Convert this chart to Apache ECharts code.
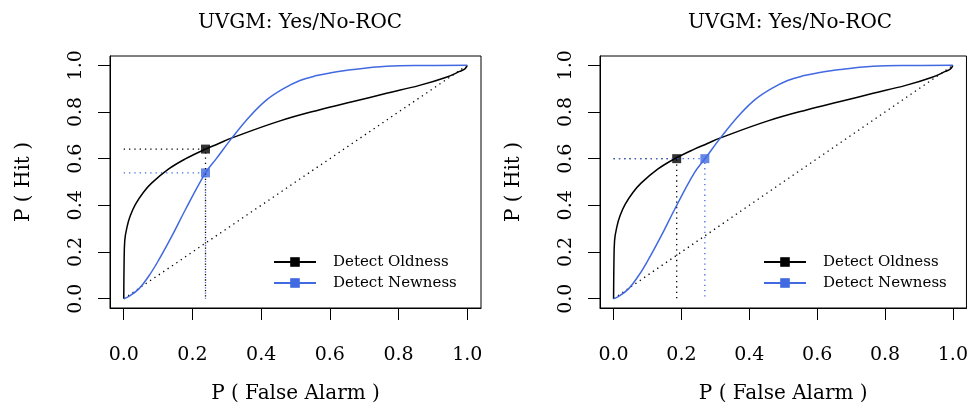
<!DOCTYPE html>
<html>
<head>
<meta charset="utf-8">
<script src="https://cdn.jsdelivr.net/npm/echarts@6/dist/echarts.min.js"></script>
<style>
  html, body { margin: 0; padding: 0; background: #fff; }
  #chart { width: 971px; height: 409px; }
</style>
</head>
<body>
<div id="chart"></div>
<script>
// ROC curves (same curves in both panels)
const oldFA  = [0, 0.001, 0.003, 0.01, 0.019, 0.034, 0.057, 0.081, 0.13, 0.178, 0.238, 0.275, 0.315, 0.455, 0.571, 0.668, 0.765, 0.861, 0.939, 0.978, 0.993, 1.0];
const oldHit = [0, 0.15, 0.25, 0.31, 0.355, 0.404, 0.455, 0.495, 0.555, 0.598, 0.641, 0.664, 0.689, 0.762, 0.81, 0.845, 0.88, 0.914, 0.949, 0.974, 0.985, 1.0];
const newFA  = [0, 0.015, 0.044, 0.073, 0.102, 0.14, 0.179, 0.238, 0.269, 0.315, 0.368, 0.416, 0.465, 0.513, 0.562, 0.60, 0.668, 0.765, 0.861, 1.0];
const newHit = [0, 0.01, 0.042, 0.097, 0.166, 0.268, 0.38, 0.539, 0.599, 0.689, 0.783, 0.852, 0.90, 0.935, 0.956, 0.967, 0.982, 0.996, 0.9995, 1.0];

// marked operating points per panel: [FA, Hit]
const leftOld  = [0.238, 0.641];
const leftNew  = [0.238, 0.539];
const rightOld = [0.186, 0.6];
const rightNew = [0.269, 0.6];

const ticks = [0, 0.2, 0.4, 0.6, 0.8, 1.0];
const titleText = 'UVGM: Yes/No-ROC';
const seriesNames = ['Detect Oldness', 'Detect Newness'];

const BLUE = '#4169e1';
const FONT = 'DejaVu Serif';

const zip = (xs, ys) => xs.map((x, i) => [x, ys[i]]);

function axis(isX, idx) {
  return {
    type: 'value',
    gridIndex: idx,
    min: -0.04,
    max: 1.04,
    name: isX ? 'P ( False Alarm )' : 'P ( Hit )',
    nameLocation: 'middle',
    nameGap: 76,
    nameTextStyle: { fontFamily: FONT, fontSize: 20, color: '#000' },
    splitLine: { show: false },
    axisLine: { show: true, onZero: false, lineStyle: { color: '#000', width: 1 } },
    axisTick: { show: true, length: 12, customValues: ticks, lineStyle: { color: '#000' } },
    axisLabel: {
      customValues: ticks,
      formatter: v => v.toFixed(1),
      margin: isX ? 38 : 24,
      rotate: isX ? 0 : 90,
      fontFamily: FONT, fontSize: 19, color: '#000'
    }
  };
}

function panelSeries(idx, ptOld, ptNew) {
  const dotted = (color) => ({ color: color, width: 1.3, type: [1.3, 4] });
  return [
    { type: 'line', xAxisIndex: idx, yAxisIndex: idx, data: [[0, 0], [1, 1]],
      symbol: 'none', silent: true, lineStyle: dotted('#000') },
    { type: 'line', xAxisIndex: idx, yAxisIndex: idx,
      data: [[0, ptOld[1]], ptOld, [ptOld[0], 0]],
      symbol: 'none', silent: true, lineStyle: dotted('#000') },
    { type: 'line', xAxisIndex: idx, yAxisIndex: idx,
      data: [[0, ptNew[1]], ptNew, [ptNew[0], 0]],
      symbol: 'none', silent: true, lineStyle: dotted(BLUE) },
    { name: seriesNames[0], type: 'line', xAxisIndex: idx, yAxisIndex: idx,
      data: zip(oldFA, oldHit), smooth: 0.4,
      symbol: 'rect', symbolSize: 9, showSymbol: false,
      itemStyle: { color: '#000' }, lineStyle: { color: '#000', width: 1.5 } },
    { name: seriesNames[1], type: 'line', xAxisIndex: idx, yAxisIndex: idx,
      data: zip(newFA, newHit), smooth: 0.4,
      symbol: 'rect', symbolSize: 9, showSymbol: false,
      itemStyle: { color: BLUE }, lineStyle: { color: BLUE, width: 1.5 } },
    { type: 'scatter', xAxisIndex: idx, yAxisIndex: idx, data: [ptOld],
      symbol: 'rect', symbolSize: 9, itemStyle: { color: '#000' } },
    { type: 'scatter', xAxisIndex: idx, yAxisIndex: idx, data: [ptNew],
      symbol: 'rect', symbolSize: 9, itemStyle: { color: BLUE } }
  ];
}

function legend(left) {
  return {
    data: seriesNames,
    left: left, top: 249,
    orient: 'vertical',
    itemWidth: 42, itemHeight: 12, itemGap: 5,
    selectedMode: false,
    textStyle: { fontFamily: FONT, fontSize: 15, lineHeight: 16, color: '#000', padding: [0, 0, 0, 12] }
  };
}

const chart = echarts.init(document.getElementById('chart'));
chart.setOption({
  animation: false,
  backgroundColor: '#fff',
  title: [
    { text: titleText, left: 295, top: 8, textAlign: 'center',
      textStyle: { fontFamily: FONT, fontSize: 20, fontWeight: 'normal', color: '#000' } },
    { text: titleText, left: 785, top: 8, textAlign: 'center',
      textStyle: { fontFamily: FONT, fontSize: 20, fontWeight: 'normal', color: '#000' } }
  ],
  grid: [
    { left: 110, top: 56, width: 371, height: 258, show: true, borderColor: '#000', borderWidth: 1 },
    { left: 600, top: 56, width: 370, height: 258, show: true, borderColor: '#000', borderWidth: 1 }
  ],
  legend: [legend(268), legend(758)],
  xAxis: [axis(true, 0), axis(true, 1)],
  yAxis: [axis(false, 0), axis(false, 1)],
  series: panelSeries(0, leftOld, leftNew).concat(panelSeries(1, rightOld, rightNew))
});
</script>
</body>
</html>
